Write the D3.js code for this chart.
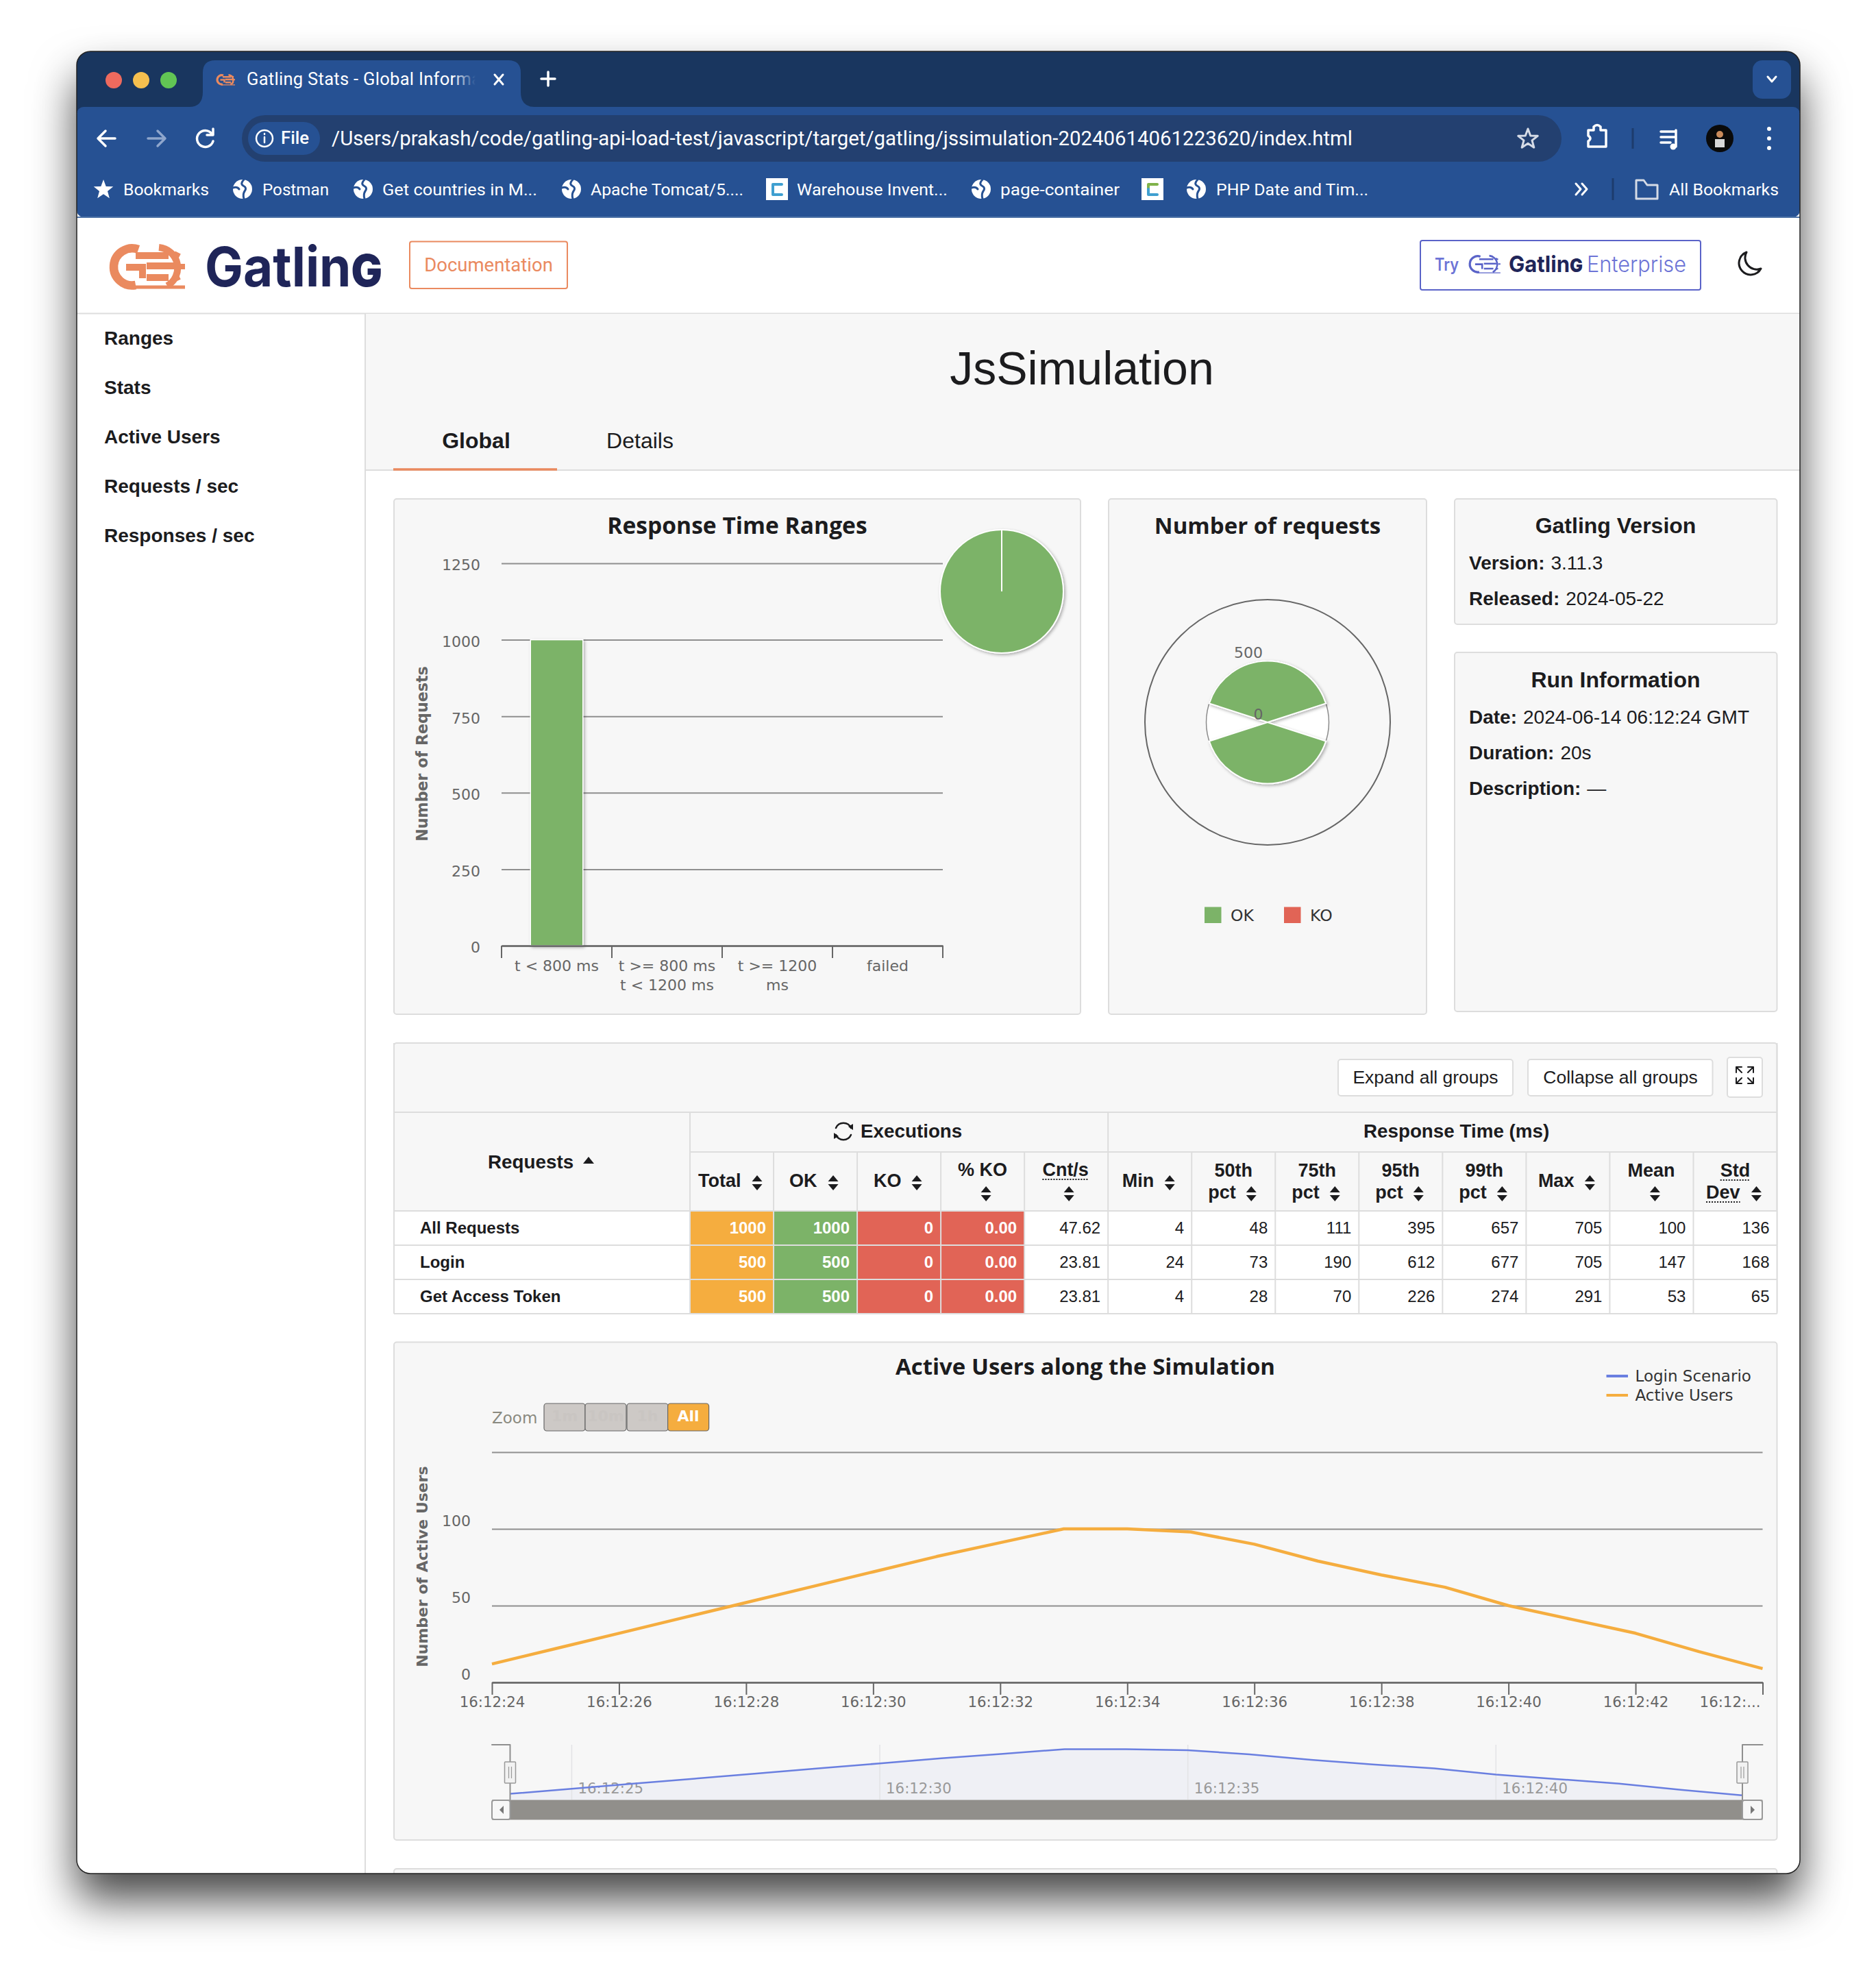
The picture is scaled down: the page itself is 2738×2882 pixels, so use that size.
<!DOCTYPE html>
<html>
<head>
<meta charset="utf-8">
<title>Gatling Stats - Global Information</title>
<script src="https://cdn.jsdelivr.net/npm/d3@7"></script>
<style>
  html, body { margin: 0; background: #fff; overflow: hidden; }
  svg { display: block; }
</style>
</head>
<body>
<script>
const W = 2738, H = 2882;

const SANS = "'Liberation Sans', Arial, sans-serif",
      UI = "Roboto, sans-serif",
      BRAND = "Inter, sans-serif",
      TITLE = "'Open Sans', 'Noto Sans', sans-serif",
      CHART = "'DejaVu Sans', Verdana, sans-serif";

const color = {
  strip: "#19365f", toolbar: "#265193", omni: "#234070",
  orange: "#f5ad3f", green: "#7cb368", red: "#e16456", blue: "#6a7fe0",
  panel: "#f7f7f7", line: "#dddddd", grid: "#8f8f8f", axis: "#666666",
  ink: "#1c1c1e", brand: "#ea8a5f", navy: "#1f2559", violet: "#5a63c8"
};

// ---- data -----------------------------------------------------------------

const ranges = [
  {label: ["t < 800 ms"], value: 1000},
  {label: ["t >= 800 ms", "t < 1200 ms"], value: 0},
  {label: ["t >= 1200", "ms"], value: 0},
  {label: ["failed"], value: 0}
];

const requestCounts = [
  {name: "Login", ok: 500, ko: 0},
  {name: "Get Access Token", ok: 500, ko: 0}
];

const columns = [
  {key: "total", fill: color.orange, head: [["Total", 12, 1723, "start"]], arrow: [98, 1726]},
  {key: "ok", fill: color.green, head: [["OK", 23, 1723, "start"]], arrow: [87, 1726]},
  {key: "ko", fill: color.red, head: [["KO", 24, 1723, "start"]], arrow: [87, 1726]},
  {key: "pctKo", fill: color.red, head: [["% KO", 61, 1707, "middle"]], arrow: [66, 1742]},
  {key: "cnt", head: [["Cnt/s", 60, 1707, "middle", true]], arrow: [65, 1742]},
  {key: "min", head: [["Min", 20.5, 1723, "start"]], arrow: [90, 1726]},
  {key: "p50", head: [["50th", 61, 1708, "middle"], ["pct", 24, 1740, "start"]], arrow: [87, 1742]},
  {key: "p75", head: [["75th", 61, 1708, "middle"], ["pct", 24, 1740, "start"]], arrow: [87, 1742]},
  {key: "p95", head: [["95th", 61, 1708, "middle"], ["pct", 24, 1740, "start"]], arrow: [87, 1742]},
  {key: "p99", head: [["99th", 61, 1708, "middle"], ["pct", 24, 1740, "start"]], arrow: [87, 1742]},
  {key: "max", head: [["Max", 17.5, 1723, "start"]], arrow: [93, 1726]},
  {key: "mean", head: [["Mean", 60.5, 1708, "middle"]], arrow: [66, 1742]},
  {key: "std", head: [["Std", 61, 1708, "middle", true], ["Dev", 18.6, 1740, "start", true]], arrow: [92, 1742]}
];

const stats = [
  {name: "All Requests", total: 1000, ok: 1000, ko: 0, pctKo: "0.00", cnt: "47.62", min: 4, p50: 48, p75: 111, p95: 395, p99: 657, max: 705, mean: 100, std: 136},
  {name: "Login", total: 500, ok: 500, ko: 0, pctKo: "0.00", cnt: "23.81", min: 24, p50: 73, p75: 190, p95: 612, p99: 677, max: 705, mean: 147, std: 168},
  {name: "Get Access Token", total: 500, ok: 500, ko: 0, pctKo: "0.00", cnt: "23.81", min: 4, p50: 28, p75: 70, p95: 226, p99: 274, max: 291, mean: 53, std: 65}
];

// one sample per second, starting at 16:12:24
const users = [12, 22, 32, 42, 52, 62, 72, 82, 91, 100, 100, 98, 90, 79, 70, 62, 50, 41, 32, 20, 9]
  .map((v, i) => ({t: new Date(Date.UTC(2024, 5, 14, 16, 12, 24 + i)), v}));

const bookmarks = [
  {icon: "star", x: 151, tx: 180, w: 125, label: "Bookmarks"},
  {icon: "globe", x: 354, tx: 383, w: 97, label: "Postman"},
  {icon: "globe", x: 530, tx: 558, w: 226, label: "Get countries in M..."},
  {icon: "globe", x: 834, tx: 862, w: 223, label: "Apache Tomcat/5...."},
  {icon: "square", x: 1134, tx: 1163, w: 220, label: "Warehouse Invent...", tint: "#3f9fd0", tint2: "#3f9fd0"},
  {icon: "globe", x: 1432, tx: 1460, w: 174, label: "page-container"},
  {icon: "square", x: 1682, tint: "#7fb24a", tint2: "#3f9fd0"},
  {icon: "globe", x: 1746, tx: 1775, w: 222, label: "PHP Date and Tim..."},
  {icon: "folder", x: 2403, tx: 2436, w: 160, label: "All Bookmarks"}
];

// ---- helpers --------------------------------------------------------------

const svg = d3.select("body").append("svg")
    .attr("width", W)
    .attr("height", H)
    .attr("viewBox", [0, 0, W, H]);

const defs = svg.append("defs");

defs.append("filter")
    .attr("id", "window-shadow")
    .attr("x", "-10%").attr("y", "-10%").attr("width", "120%").attr("height", "120%")
  .append("feDropShadow")
    .attr("dx", 0).attr("dy", 38).attr("stdDeviation", 32)
    .attr("flood-color", "#000").attr("flood-opacity", 0.72);

defs.append("filter")
    .attr("id", "soft")
    .attr("x", "-20%").attr("y", "-20%").attr("width", "140%").attr("height", "140%")
  .append("feDropShadow")
    .attr("dx", 2).attr("dy", 2).attr("stdDeviation", 2)
    .attr("flood-color", "#000").attr("flood-opacity", 0.3);

defs.append("clipPath")
    .attr("id", "window-clip")
  .append("rect")
    .attr("x", 112).attr("y", 75).attr("width", 2515).attr("height", 2659).attr("rx", 20);

defs.append("clipPath")
    .attr("id", "tab-clip")
  .append("rect")
    .attr("x", 300).attr("y", 88).attr("width", 394).attr("height", 68);

const tabFade = defs.append("linearGradient").attr("id", "tab-fade");
tabFade.append("stop").attr("offset", 0).attr("stop-color", color.toolbar).attr("stop-opacity", 0);
tabFade.append("stop").attr("offset", 1).attr("stop-color", color.toolbar).attr("stop-opacity", 1);

function label(g, x, y, text, o = {}) {
  const t = g.append("text")
      .attr("x", x)
      .attr("y", y)
      .attr("dy", "0.35em")
      .attr("font-family", o.family || SANS)
      .attr("font-size", o.size || 24)
      .attr("font-weight", o.weight || 400)
      .attr("fill", o.fill || color.ink)
      .attr("text-anchor", o.anchor || "start")
      .text(text);
  if (o.length) t.attr("textLength", o.length).attr("lengthAdjust", "spacingAndGlyphs");
  return t;
}

function box(g, x0, y0, x1, y1, o = {}) {
  return g.append("rect")
      .attr("x", x0)
      .attr("y", y0)
      .attr("width", x1 - x0)
      .attr("height", y1 - y0)
      .attr("rx", o.rx === undefined ? 4 : o.rx)
      .attr("fill", o.fill || color.panel)
      .attr("stroke", o.stroke || color.line)
      .attr("stroke-width", o.sw === undefined ? 2 : o.sw);
}

function hline(g, x0, x1, y, stroke = color.line, sw = 2) {
  return g.append("line")
      .attr("x1", x0).attr("x2", x1).attr("y1", y).attr("y2", y)
      .attr("stroke", stroke).attr("stroke-width", sw);
}

function vline(g, x, y0, y1, stroke = color.line, sw = 2) {
  return g.append("line")
      .attr("x1", x).attr("x2", x).attr("y1", y0).attr("y2", y1)
      .attr("stroke", stroke).attr("stroke-width", sw);
}

function stroked(g, d, stroke, sw, fill) {
  return g.append("path")
      .attr("d", d)
      .attr("fill", fill || "none")
      .attr("stroke", stroke)
      .attr("stroke-width", sw)
      .attr("stroke-linecap", "round")
      .attr("stroke-linejoin", "round");
}

function starPath(x, y, r) {
  return d3.range(10).map(i => {
    const a = -Math.PI / 2 + i * Math.PI / 5, q = i % 2 ? r * 0.42 : r;
    return (i ? "L" : "M") + (x + q * Math.cos(a)) + " " + (y + q * Math.sin(a));
  }).join("") + "Z";
}

function globe(g, x, y) {
  g.append("circle").attr("cx", x).attr("cy", y).attr("r", 14).attr("fill", "#fff");
  stroked(g, `M${x + 2} ${y - 14}q-6 6 -1 9q6 3 2 8q-3 4 -1 11M${x - 14} ${y - 2}q6 -2 9 2`, color.toolbar, 3);
}

// flame wheel: a G followed by three bars and a toothed arc
function logo(g, x, y, k, main, sw) {
  const m = g.append("g")
      .attr("transform", `translate(${x},${y}) scale(${k})`)
      .attr("fill", "none")
      .attr("stroke", main)
      .attr("stroke-width", sw);
  m.append("path").attr("d", "M48 8A27 27 0 1 0 44 60").attr("stroke-width", sw * 1.25);
  m.append("path").attr("d", "M30 34H54V50");
  m.append("path").attr("d", "M44 17H92M60 32H102M60 49H92");
  m.append("path").attr("d", "M78 5A30 30 0 0 1 90 61");
  m.append("path").attr("d", "M100 14L108 18M108 33H116M100 52L108 48").attr("stroke-width", sw * 0.8);
  m.append("path").attr("d", "M36 63H116").attr("stroke-width", sw * 0.5);
}

// the last g of the word mark is drawn as a small capital
function wordmark(g, x, y, size, length) {
  const t = label(g, x, y, "Gatlin", {family: BRAND, size, weight: 700, fill: color.navy, length});
  t.append("tspan")
      .attr("font-size", size * 1.08)
      .style("font-variant", "small-caps")
      .text("g");
  return t;
}

function sortArrows(g, x, y) {
  g.append("path")
      .attr("d", `M${x - 7.5} ${y - 2}L${x} ${y - 11}L${x + 7.5} ${y - 2}ZM${x - 7.5} ${y + 2}L${x} ${y + 11}L${x + 7.5} ${y + 2}Z`)
      .attr("fill", color.ink);
}

// ---- window ---------------------------------------------------------------

svg.append("rect")
    .attr("x", 112).attr("y", 75).attr("width", 2515).attr("height", 2659).attr("rx", 20)
    .attr("fill", "#fff")
    .attr("filter", "url(#window-shadow)");

const page = svg.append("g").attr("clip-path", "url(#window-clip)");

page.append("rect").attr("x", 112).attr("y", 75).attr("width", 2515).attr("height", 90).attr("fill", color.strip);
page.append("rect").attr("x", 112).attr("y", 156).attr("width", 2515).attr("height", 161).attr("rx", 10).attr("fill", color.toolbar);
hline(page, 112, 2627, 317, "#4f74a8", 2);

// traffic lights
page.selectAll("circle.light")
  .data([[166, "#ed6a5e"], [206, "#f5bf4f"], [246, "#61c554"]])
  .join("circle")
    .attr("class", "light")
    .attr("cx", d => d[0])
    .attr("cy", 117)
    .attr("r", 12)
    .attr("fill", d => d[1]);

// tab
page.append("path")
    .attr("d", "M276 156Q296 156 296 134V106Q296 88 314 88H742Q760 88 760 106V134Q760 156 780 156Z")
    .attr("fill", color.toolbar);
logo(page, 314, 108, 0.25, color.brand, 10);
page.append("g").attr("clip-path", "url(#tab-clip)")
    .call(g => label(g, 360, 115, "Gatling Stats - Global Information", {family: UI, size: 25.5, fill: "#fff"}).attr("letter-spacing", 0.3));
page.append("rect").attr("x", 660).attr("y", 100).attr("width", 34).attr("height", 30).attr("fill", "url(#tab-fade)");
stroked(page, "M722 109L734 123M734 109L722 123", "#fff", 3);
stroked(page, "M800 105V125M790 115H810", "#fff", 3.5);
box(page, 2558, 88, 2614, 144, {rx: 14, fill: color.toolbar, stroke: "none", sw: 0});
stroked(page, "M2580 112L2586 119L2592 112", "#fff", 3);

// navigation
stroked(page, "M168 202H144M154 191L143 202L154 213", "#fff", 3.5);
stroked(page, "M216 202H240M230 191L241 202L230 213", "#8fa6cc", 3.5);
stroked(page, "M309 195A12 12 0 1 0 311 206M311 188V197H302", "#fff", 3.5);
box(page, 353, 168, 2279, 236, {rx: 34, fill: color.omni, stroke: "none", sw: 0});
box(page, 362, 178, 467, 226, {rx: 24, fill: color.toolbar, stroke: "none", sw: 0});
page.append("circle").attr("cx", 386).attr("cy", 202).attr("r", 12).attr("fill", "none").attr("stroke", "#fff").attr("stroke-width", 2.5);
stroked(page, "M386 200V208M386 195V196", "#fff", 2.5);
label(page, 410, 201, "File", {family: UI, size: 25, weight: 500, fill: "#fff", length: 41});
label(page, 484, 202, "/Users/prakash/code/gatling-api-load-test/javascript/target/gatling/jssimulation-20240614061223620/index.html",
  {family: UI, size: 29, fill: "#fff", length: 1490});
stroked(page, starPath(2230, 203, 15), "#d5dbe6", 3);
stroked(page, "M2318 190H2326V185Q2331 180 2336 185V190H2344V214H2318V206Q2324 202 2318 198Z", "#fff", 3.5);
vline(page, 2383, 187, 217, "#1d3c6d", 3);
stroked(page, "M2424 192H2444M2424 200H2444M2424 208H2438M2446 190V214", "#fff", 3.5);
page.append("circle").attr("cx", 2442).attr("cy", 214).attr("r", 4.5).attr("fill", "#fff");
page.append("circle").attr("cx", 2510).attr("cy", 202).attr("r", 20).attr("fill", "#0a0a0a");
page.append("rect").attr("x", 2503).attr("y", 203).attr("width", 14).attr("height", 12).attr("fill", "#d8d8d8");
page.append("circle").attr("cx", 2510).attr("cy", 196).attr("r", 5).attr("fill", "#c98a5a");
page.selectAll("circle.dot")
  .data([188, 202, 216])
  .join("circle")
    .attr("class", "dot")
    .attr("cx", 2582)
    .attr("cy", d => d)
    .attr("r", 3)
    .attr("fill", "#fff");

// bookmarks bar
bookmarks.forEach(b => {
  if (b.icon === "star") page.append("path").attr("d", starPath(b.x, 277, 15)).attr("fill", "#fff");
  if (b.icon === "globe") globe(page, b.x, 276);
  if (b.icon === "square") {
    page.append("rect").attr("x", b.x - 16).attr("y", 260).attr("width", 32).attr("height", 32).attr("fill", "#fff");
    stroked(page, `M${b.x + 7} 269H${b.x - 6}V276`, b.tint, 4);
    stroked(page, `M${b.x - 6} 276V284H${b.x + 7}`, b.tint2, 4);
  }
  if (b.icon === "folder") stroked(page, "M2388 263H2399L2404 270H2419V290H2388Z", "#d5dbe6", 3);
  if (b.label) label(page, b.tx, 276, b.label, {family: UI, size: 24.5, fill: "#fff", length: b.w});
});
stroked(page, "M2300 268L2307 276L2300 284M2309 268L2316 276L2309 284", "#fff", 3);
vline(page, 2354, 260, 292, "#1d3c6d", 3);

// ---- gatling header -------------------------------------------------------

page.append("rect").attr("x", 112).attr("y", 318).attr("width", 2515).attr("height", 139).attr("fill", "#fff");
hline(page, 112, 2627, 457.5);

logo(page, 154, 356, 1, color.brand, 10);
wordmark(page, 299, 390, 80, 259);

box(page, 598, 352.5, 828, 421, {rx: 3, fill: "#fff", stroke: color.brand});
label(page, 713, 386, "Documentation", {size: 27.5, fill: color.brand, anchor: "middle", family: UI});

box(page, 2073, 351, 2482, 423, {rx: 3, fill: "#fff", stroke: color.violet});
label(page, 2094, 386, "Try", {family: BRAND, size: 25, weight: 600, fill: "#6d74d6", length: 35});
logo(page, 2140, 371, 0.43, "#5a63c8", 6);
wordmark(page, 2202, 385.5, 33, 108);
label(page, 2316, 385.5, "Enterprise", {family: BRAND, size: 33, weight: 300, fill: "#6d74d6", length: 145});
stroked(page, "M2549 368A17 17 0 1 0 2570 392A17 17 0 0 1 2549 368Z", "#1c1c1e", 3);

// ---- sidebar --------------------------------------------------------------

page.append("rect").attr("x", 533).attr("y", 458).attr("width", 2094).attr("height", 228).attr("fill", color.panel);
vline(page, 533, 458, 2734);
hline(page, 534, 2627, 686);

[["Ranges", 493], ["Stats", 565], ["Active Users", 637], ["Requests / sec", 709], ["Responses / sec", 781]]
  .forEach(([text, y]) => label(page, 152, y, text, {size: 28, weight: 700}));

label(page, 1579, 537, "JsSimulation", {size: 68, anchor: "middle"});
label(page, 695, 643, "Global", {size: 32, weight: 700, anchor: "middle"});
label(page, 934, 643, "Details", {size: 32, anchor: "middle"});
hline(page, 574, 813, 685, color.brand, 3.5);

// ---- response time ranges -------------------------------------------------

const rangeChart = page.append("g");
box(rangeChart, 575, 728, 1577, 1480);
label(rangeChart, 1076, 767, "Response Time Ranges", {family: TITLE, size: 33.6, weight: 700, anchor: "middle"});

const rangeX = d3.scaleBand()
    .domain(ranges.map(d => d.label.join(" ")))
    .range([732, 1376]);

const rangeY = d3.scaleLinear()
    .domain([0, 1250])
    .range([1380, 822]);

rangeChart.append("g")
    .attr("transform", "translate(732,0)")
    .call(d3.axisLeft(rangeY).tickValues([0, 250, 500, 750, 1000, 1250]).tickSize(-644).tickPadding(31).tickFormat(d3.format("d")))
    .call(g => g.select(".domain").remove())
    .call(g => g.selectAll(".tick line").attr("stroke", color.grid).attr("stroke-width", 2))
    .call(g => g.selectAll(".tick text")
        .attr("dy", "0.45em")
        .attr("font-family", CHART)
        .attr("font-size", 22)
        .attr("fill", color.axis));

rangeChart.selectAll("rect.bar")
  .data(ranges.filter(d => d.value > 0))
  .join("rect")
    .attr("class", "bar")
    .attr("x", d => rangeX(d.label.join(" ")) + rangeX.bandwidth() * 0.2625)
    .attr("width", rangeX.bandwidth() * 0.475)
    .attr("y", d => rangeY(d.value))
    .attr("height", d => rangeY(0) - rangeY(d.value))
    .attr("fill", color.green)
    .attr("stroke", "#fff")
    .attr("stroke-width", 1.5)
    .attr("filter", "url(#soft)");

rangeChart.append("g")
    .attr("transform", `translate(0,${rangeY(0)})`)
    .call(d3.axisBottom(rangeX).tickSize(0).tickFormat(""))
    .call(g => g.select(".domain").attr("stroke", color.axis).attr("stroke-width", 2.5));

rangeX.domain().concat("end").forEach(k => {
  const x = k === "end" ? rangeX.range()[1] : rangeX(k);
  vline(rangeChart, x, rangeY(0), rangeY(0) + 18, color.axis, 2);
});

ranges.forEach(d => {
  const cx = rangeX(d.label.join(" ")) + rangeX.bandwidth() / 2;
  d.label.forEach((line, i) => label(rangeChart, cx, 1409.5 + i * 27.5, line, {family: CHART, size: 22, fill: color.axis, anchor: "middle"}));
});

label(rangeChart, 0, 0, "Number of Requests", {family: CHART, size: 22.2, weight: 700, fill: color.axis, anchor: "middle"})
    .attr("transform", "translate(616,1100) rotate(-90)");

// small pie in the corner of the ranges chart
const miniPie = d3.pie().sort(null).value(d => d.value).startAngle(0).endAngle(2 * Math.PI)(ranges);
const miniArc = d3.arc().innerRadius(0).outerRadius(90);

rangeChart.append("g")
    .attr("transform", "translate(1462,863)")
    .attr("filter", "url(#soft)")
  .selectAll("path")
  .data(miniPie)
  .join("path")
    .attr("d", miniArc)
    .attr("fill", color.green)
    .attr("stroke", "#fff")
    .attr("stroke-width", 2);

// ---- number of requests ---------------------------------------------------

const roseChart = page.append("g");
box(roseChart, 1618, 728, 2082, 1480);
label(roseChart, 1850, 767, "Number of requests", {family: TITLE, size: 33, weight: 700, anchor: "middle"});

const roseAngle = d3.scaleBand()
    .domain(requestCounts.map(d => d.name))
    .range([-Math.PI / 2, 3 * Math.PI / 2])
    .paddingInner(0.2)
    .paddingOuter(0.1);

const roseR = d3.scaleLinear()
    .domain([0, 1000])
    .range([0, 179]);

const rose = roseChart.append("g").attr("transform", "translate(1850,1054)");

rose.append("circle")
    .attr("r", roseR(1000))
    .attr("fill", "none")
    .attr("stroke", "#666")
    .attr("stroke-width", 2);

rose.append("circle")
    .attr("r", roseR(500))
    .attr("fill", "#fff")
    .attr("stroke", "#8c8c8c")
    .attr("stroke-width", 1.5);

rose.selectAll("path.sector")
  .data(requestCounts)
  .join("path")
    .attr("class", "sector")
    .attr("d", d => d3.arc()({
      innerRadius: 0,
      outerRadius: roseR(d.ok),
      startAngle: roseAngle(d.name),
      endAngle: roseAngle(d.name) + roseAngle.bandwidth()
    }))
    .attr("fill", color.green)
    .attr("stroke", "#fff")
    .attr("stroke-width", 2)
    .attr("filter", "url(#soft)");

[0, 500].forEach(v => label(rose, v ? -28 : -13.5, -roseR(v) - 12, v, {family: CHART, size: 22, fill: color.axis, anchor: "middle"}));

[["OK", 1758, 1796, color.green], ["KO", 1874, 1912, color.red]].forEach(([name, x, tx, fill]) => {
  roseChart.append("rect").attr("x", x).attr("y", 1323.5).attr("width", 24.5).attr("height", 23.5).attr("fill", fill);
  label(roseChart, tx, 1336, name, {family: CHART, size: 23.5, fill: "#333"});
});

// ---- info panels ----------------------------------------------------------

function infoPanel(y0, y1, title, titleY, rows) {
  const g = page.append("g");
  box(g, 2123, y0, 2593.5, y1);
  label(g, 2358, titleY, title, {size: 32, weight: 700, anchor: "middle"});
  rows.forEach(([k, v, y]) => {
    const t = label(g, 2144, y, k, {size: 28, weight: 700});
    t.append("tspan").attr("font-weight", 400).attr("dx", 9).text(v);
  });
}

infoPanel(728, 911, "Gatling Version", 767, [["Version:", "3.11.3", 821.5], ["Released:", "2024-05-22", 873]]);
infoPanel(952, 1476, "Run Information", 992, [
  ["Date:", "2024-06-14 06:12:24 GMT", 1046],
  ["Duration:", "20s", 1098],
  ["Description:", "\u2014", 1150]
]);

// ---- statistics table -----------------------------------------------------

const table = page.append("g");
box(table, 575, 1522, 2593.5, 1917);

const colX = d3.scaleBand()
    .domain(columns.map(d => d.key))
    .range([1007, 2593.5]);

const rowY = d3.scaleBand()
    .domain(stats.map(d => d.name))
    .range([1767, 1917]);

table.append("rect").attr("x", 575).attr("y", 1767).attr("width", 2018).attr("height", 150).attr("fill", "#fff");

// coloured cells
stats.forEach(row => columns.filter(c => c.fill).forEach(c => {
  table.append("rect")
      .attr("x", colX(c.key))
      .attr("y", rowY(row.name))
      .attr("width", colX.bandwidth())
      .attr("height", rowY.bandwidth())
      .attr("fill", c.fill);
}));

// rules
hline(table, 575, 2593.5, 1623);
hline(table, 1007, 2593.5, 1681);
hline(table, 575, 2593.5, 1767);
stats.forEach(row => hline(table, 575, 2593.5, rowY(row.name) + rowY.bandwidth()));
vline(table, 575, 1522, 1917);
vline(table, 2593.5, 1522, 1917);
vline(table, 1007, 1623, 1917);
columns.forEach((c, i) => { if (i) vline(table, colX(c.key), i === 5 ? 1623 : 1681, 1917); });

// top toolbar of the table
box(table, 1953, 1546, 2208, 1599, {fill: "#fff"});
label(table, 2080.5, 1572, "Expand all groups", {size: 26.5, anchor: "middle"});
box(table, 2230, 1546, 2499.5, 1599, {fill: "#fff"});
label(table, 2365, 1572, "Collapse all groups", {size: 26.5, anchor: "middle"});
box(table, 2521, 1543, 2572, 1601, {fill: "#fff"});
stroked(table, "M2534 1557H2542M2534 1557V1565M2534 1557L2542 1565M2559 1557H2551M2559 1557V1565M2559 1557L2551 1565M2534 1581H2542M2534 1581V1573M2534 1581L2542 1573M2559 1581H2551M2559 1581V1573M2559 1581L2551 1573", color.ink, 2);

// group headers
stroked(table, "M1220 1646A12 12 0 0 1 1242 1646M1242 1656A12 12 0 0 1 1220 1656", color.ink, 2.5);
table.append("path").attr("d", "M1238 1644L1245 1640V1649ZM1224 1658L1217 1662V1653Z").attr("fill", color.ink);
label(table, 1256, 1650, "Executions", {size: 27.8, weight: 700});
label(table, 2125.6, 1650, "Response Time (ms)", {size: 27.8, weight: 700, anchor: "middle"});
label(table, 712, 1695, "Requests", {size: 27.8, weight: 700});
table.append("path").attr("d", "M851 1698L859 1688L867 1698Z").attr("fill", color.ink);

// column headers
columns.forEach(c => {
  const x0 = colX(c.key);
  c.head.forEach(([text, dx, y, anchor, dotted]) => {
    const t = label(table, x0 + dx, y, text, {size: 27, weight: 700, anchor});
    if (dotted) {
      const w = t.node().getComputedTextLength(),
            left = anchor === "middle" ? x0 + dx - w / 2 : x0 + dx;
      hline(table, left, left + w, y + 14, color.ink, 2).attr("stroke-dasharray", "2,2");
    }
  });
  sortArrows(table, x0 + c.arrow[0], c.arrow[1]);
});

// body
stats.forEach(row => {
  const cy = rowY(row.name) + rowY.bandwidth() / 2;
  label(table, 613, cy, row.name, {size: 24, weight: 700});
  columns.forEach(c => {
    label(table, colX(c.key) + colX.bandwidth() - 11, cy, row[c.key], {
      size: 24,
      anchor: "end",
      weight: c.fill ? 700 : 400,
      fill: c.fill ? "#fff" : color.ink
    });
  });
});

// ---- active users ---------------------------------------------------------

const usersChart = page.append("g");
box(usersChart, 575, 1958.5, 2593.5, 2685);
label(usersChart, 1584, 1994, "Active Users along the Simulation", {family: TITLE, size: 33, weight: 700, anchor: "middle"});

[["Login Scenario", 2008, color.blue], ["Active Users", 2036, color.orange]].forEach(([name, y, stroke]) => {
  hline(usersChart, 2344.5, 2376, y, stroke, 4);
  label(usersChart, 2386.5, y, name, {family: CHART, size: 23, fill: "#333"});
});

// range selector
label(usersChart, 718, 2069, "Zoom", {family: CHART, size: 23, fill: "#8a8a80"});
[["1m", 794], ["10m", 854], ["1h", 915], ["All", 974.6]].forEach(([name, x]) => {
  const on = name === "All";
  box(usersChart, x, 2048, x + 60, 2088, {rx: 4, fill: on ? color.orange : "#cdc9c6", stroke: "#666", sw: 1.2});
  label(usersChart, x + 30, 2066, name, {family: CHART, size: 22, weight: 700, anchor: "middle", fill: on ? "#fff" : "#c9c5c2"});
});

const timeX = d3.scaleUtc()
    .domain(d3.extent(users, d => d.t))
    .range([718, 2572.5]);

const usersY = d3.scaleLinear()
    .domain([0, 150])
    .range([2455, 2119]);

usersChart.append("g")
    .attr("transform", "translate(718,0)")
    .call(d3.axisLeft(usersY).tickValues([0, 50, 100, 150]).tickSize(-1854.5).tickPadding(31))
    .call(g => g.select(".domain").remove())
    .call(g => g.selectAll(".tick line").attr("stroke", color.grid).attr("stroke-width", 2))
    .call(g => g.selectAll(".tick text")
        .attr("dy", "-0.2em")
        .attr("font-family", CHART)
        .attr("font-size", 22)
        .attr("fill", color.axis)
        .text(d => d === 150 ? "" : d));

usersChart.append("path")
    .datum(users)
    .attr("d", d3.line().x(d => timeX(d.t)).y(d => usersY(d.v)))
    .attr("fill", "none")
    .attr("stroke", color.orange)
    .attr("stroke-width", 4.5)
    .attr("stroke-linejoin", "round");

const lastTick = users[users.length - 1].t;

usersChart.append("g")
    .attr("transform", `translate(0,${usersY(0)})`)
    .call(d3.axisBottom(timeX)
        .ticks(d3.utcSecond.every(2))
        .tickSize(18)
        .tickSizeOuter(0)
        .tickPadding(3)
        .tickFormat(d => +d === +lastTick ? "16:12:..." : d3.utcFormat("%H:%M:%S")(d)))
    .call(g => g.select(".domain").attr("stroke", color.axis).attr("stroke-width", 2.5))
    .call(g => g.selectAll(".tick line").attr("stroke", color.axis).attr("stroke-width", 2))
    .call(g => g.selectAll(".tick text")
        .attr("font-family", CHART)
        .attr("font-size", 21.3)
        .attr("fill", color.axis))
    .call(g => g.selectAll(".tick:last-of-type text").attr("dx", -48));

label(usersChart, 0, 0, "Number of Active Users", {family: CHART, size: 22, weight: 700, fill: color.axis, anchor: "middle"})
    .attr("transform", "translate(616,2286) rotate(-90)");

// navigator
const navX = d3.scaleUtc()
    .domain(timeX.domain())
    .range([744.5, 2543]);

const navY = d3.scaleLinear()
    .domain([0, 100])
    .range([2626.5, 2552.5]);

const nav = usersChart.append("g");

nav.append("path")
    .datum(users)
    .attr("d", d3.area().x(d => navX(d.t)).y0(navY(0)).y1(d => navY(d.v)))
    .attr("fill", "#eff0f5");

[25, 30, 35, 40].forEach(s => {
  const t = new Date(Date.UTC(2024, 5, 14, 16, 12, s));
  vline(nav, navX(t), 2546, 2626, "#e3e3e6", 1.5);
  label(nav, navX(t) + 9, 2610, d3.utcFormat("%H:%M:%S")(t), {family: CHART, size: 21.3, fill: "#999"});
});

nav.append("path")
    .datum(users)
    .attr("d", d3.line().x(d => navX(d.t)).y(d => navY(d.v)))
    .attr("fill", "none")
    .attr("stroke", color.blue)
    .attr("stroke-width", 2.5);

stroked(nav, "M718 2546H744.5V2626", "#8f8f8f", 2);
stroked(nav, "M2572.5 2546H2543V2626", "#8f8f8f", 2);

[744.5, 2543].forEach(x => {
  box(nav, x - 8, 2571, x + 8, 2602, {rx: 1, fill: "#f2f2f2", stroke: "#999", sw: 1.5});
  vline(nav, x - 2, 2578, 2595, "#999", 1.2);
  vline(nav, x + 2, 2578, 2595, "#999", 1.2);
});

nav.append("rect").attr("x", 718).attr("y", 2626.5).attr("width", 1854.5).attr("height", 29).attr("fill", "#918f8b");
box(nav, 718, 2627, 744.5, 2655, {rx: 3, fill: "#f7f7f7", stroke: "#999"});
box(nav, 2543, 2627, 2572, 2655, {rx: 3, fill: "#f7f7f7", stroke: "#999"});
nav.append("path").attr("d", "M735 2635L729 2641L735 2647Z").attr("fill", "#777");
nav.append("path").attr("d", "M2555 2635L2561 2641L2555 2647Z").attr("fill", "#777");

// top of the next panel, cut by the window
box(page, 575, 2727, 2593.5, 2760);

// window outline
svg.append("rect")
    .attr("x", 112).attr("y", 75).attr("width", 2515).attr("height", 2659).attr("rx", 20)
    .attr("fill", "none")
    .attr("stroke", "#222")
    .attr("stroke-width", 1.5);
</script>
</body>
</html>
